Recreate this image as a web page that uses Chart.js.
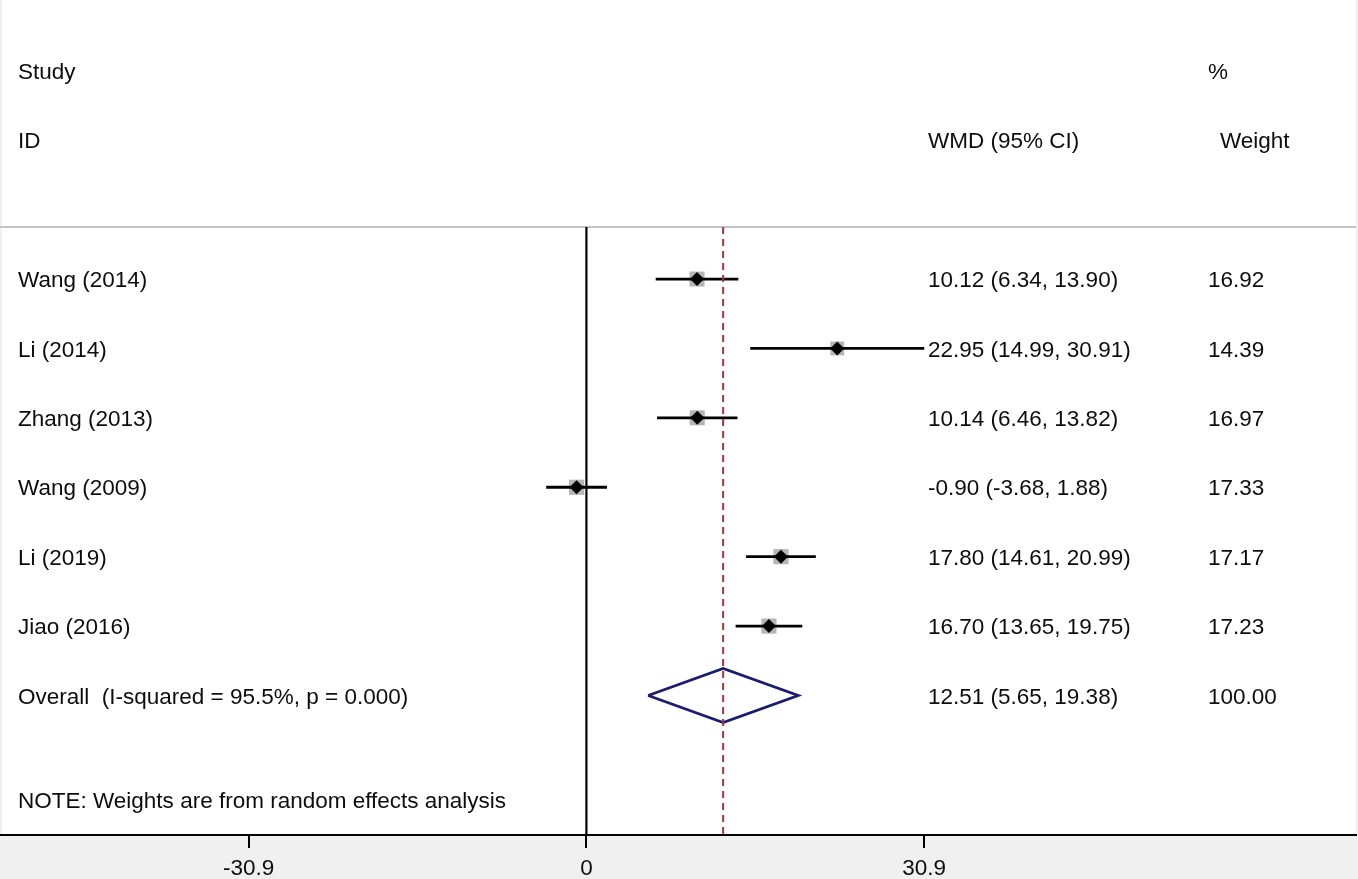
<!DOCTYPE html>
<html>
<head>
<meta charset="utf-8">
<script src="https://cdn.jsdelivr.net/npm/chart.js@4.4.1/dist/chart.umd.min.js"></script>
<style>
  html, body { margin: 0; padding: 0; background: #f0f0f0; }
  #wrap { width: 1358px; height: 879px; }
</style>
</head>
<body>
<div id="wrap"><canvas id="forest"></canvas></div>
<script>
// study data
const studies = ["Wang (2014)", "Li (2014)", "Zhang (2013)", "Wang (2009)", "Li (2019)", "Jiao (2016)"];
const wmd = [10.12, 22.95, 10.14, -0.90, 17.80, 16.70];
const lower = [6.34, 14.99, 6.46, -3.68, 14.61, 13.65];
const upper = [13.90, 30.91, 13.82, 1.88, 20.99, 19.75];
const weights = [16.92, 14.39, 16.97, 17.33, 17.17, 17.23];

// pooled estimate
const overallLabel = "Overall  (I-squared = 95.5%, p = 0.000)";
const overall = 12.51;
const overallLower = 5.65;
const overallUpper = 19.38;
const overallWeight = 100.00;

const xTicks = [-30.9, 0, 30.9];
const noteText = "NOTE: Weights are from random effects analysis";

const fmt = (v) => v.toFixed(2);

// row positions (0 = first study)
const rows = studies.map((s, i) => i);
const overallRow = studies.length;
const sepRow = -0.75;
const xMin = -53.65, xMax = 70.41;
const yMin = -4.02, yMax = 8.01;

const datasets = [];

// header separator
datasets.push({
  data: [{ x: xMin, y: sepRow }, { x: xMax, y: sepRow }],
  showLine: true, borderColor: "#c4c4c4", borderWidth: 2, pointRadius: 0, order: 10
});

// null line
datasets.push({
  data: [{ x: 0, y: sepRow }, { x: 0, y: yMax }],
  showLine: true, borderColor: "#000", borderWidth: 2.2, pointRadius: 0, order: 9
});

// pooled effect dashed line
datasets.push({
  data: [{ x: overall, y: sepRow }, { x: overall, y: yMax }],
  showLine: true, borderColor: "#a3343f", borderWidth: 2, borderDash: [7, 5], pointRadius: 0, order: 2
});

// weight boxes
datasets.push({
  data: rows.map((r) => ({ x: wmd[r], y: r })),
  showLine: false,
  pointStyle: "rect",
  pointRadius: weights.map((w) => Math.sqrt(w) * 3.65 / Math.SQRT2),
  backgroundColor: "#b5b5b5", borderWidth: 0, order: 8
});

// confidence intervals
rows.forEach((r) => {
  datasets.push({
    data: [{ x: lower[r], y: r }, { x: upper[r], y: r }],
    showLine: true, borderColor: "#000", borderWidth: 2.8, pointRadius: 0, order: 5
  });
});

// point estimates
datasets.push({
  data: rows.map((r) => ({ x: wmd[r], y: r })),
  showLine: false, pointStyle: "rectRot", pointRadius: 7,
  backgroundColor: "#000", borderColor: "#000", borderWidth: 0, order: 1
});

// overall diamond
datasets.push({
  data: [
    { x: overallLower, y: overallRow },
    { x: overall, y: overallRow - 0.39 },
    { x: overallUpper, y: overallRow },
    { x: overall, y: overallRow + 0.39 },
    { x: overallLower, y: overallRow }
  ],
  showLine: true, borderColor: "#1b1b6f", borderWidth: 2.8, pointRadius: 0, tension: 0, order: 3
});

const fontFamily = "'Liberation Sans', Arial, sans-serif";
const textFont = "22.5px " + fontFamily;

const backgroundPlugin = {
  id: "bg",
  beforeDraw(chart) {
    const { ctx, chartArea } = chart;
    ctx.save();
    ctx.fillStyle = "#ffffff";
    ctx.fillRect(chartArea.left + 2, 0, chartArea.right - chartArea.left - 2, chartArea.bottom);
    ctx.restore();
  }
};

const textPlugin = {
  id: "columns",
  afterDraw(chart) {
    const { ctx } = chart;
    const y = chart.scales.y;
    const rowY = (v) => y.getPixelForValue(v) + 2;
    ctx.save();
    ctx.font = textFont;
    ctx.fillStyle = "#0d0d0d";
    ctx.textBaseline = "middle";
    ctx.textAlign = "left";
    const colLabel = 18, colEst = 928, colW = 1208;
    ctx.fillText("Study", colLabel, rowY(-3));
    ctx.fillText("ID", colLabel, rowY(-2));
    ctx.fillText("%", colW, rowY(-3));
    ctx.fillText("WMD (95% CI)", colEst, rowY(-2));
    ctx.fillText("Weight", colW + 12, rowY(-2));
    rows.forEach((r) => {
      const py = rowY(r);
      ctx.fillText(studies[r], colLabel, py);
      ctx.fillText(fmt(wmd[r]) + " (" + fmt(lower[r]) + ", " + fmt(upper[r]) + ")", colEst, py);
      ctx.fillText(fmt(weights[r]), colW, py);
    });
    const po = rowY(overallRow);
    ctx.fillText(overallLabel, colLabel, po);
    ctx.fillText(fmt(overall) + " (" + fmt(overallLower) + ", " + fmt(overallUpper) + ")", colEst, po);
    ctx.fillText(fmt(overallWeight), colW, po);
    ctx.fillText(noteText, colLabel, rowY(7.5));
    ctx.restore();
  }
};

new Chart(document.getElementById("forest"), {
  type: "scatter",
  data: { datasets: datasets },
  options: {
    responsive: true,
    maintainAspectRatio: false,
    animation: false,
    layout: { autoPadding: false, padding: { left: 0, right: 2, top: 0, bottom: 0 } },
    plugins: { legend: { display: false }, tooltip: { enabled: false } },
    elements: { line: { fill: false } },
    scales: {
      x: {
        type: "linear",
        min: xMin,
        max: xMax,
        afterBuildTicks: (s) => { s.ticks = xTicks.map((v) => ({ value: v })); },
        afterFit: (s) => { s.height = 44; },
        border: { display: true, color: "#000", width: 2 },
        grid: { display: true, drawOnChartArea: false, drawTicks: true, tickLength: 13, color: "#000", lineWidth: 2 },
        ticks: {
          color: "#0d0d0d",
          padding: 7,
          font: { family: fontFamily, size: 22.5 },
          maxRotation: 0,
          callback: (v) => String(v)
        }
      },
      y: {
        type: "linear",
        display: false,
        reverse: true,
        min: yMin,
        max: yMax
      }
    }
  },
  plugins: [backgroundPlugin, textPlugin]
});
</script>
</body>
</html>
